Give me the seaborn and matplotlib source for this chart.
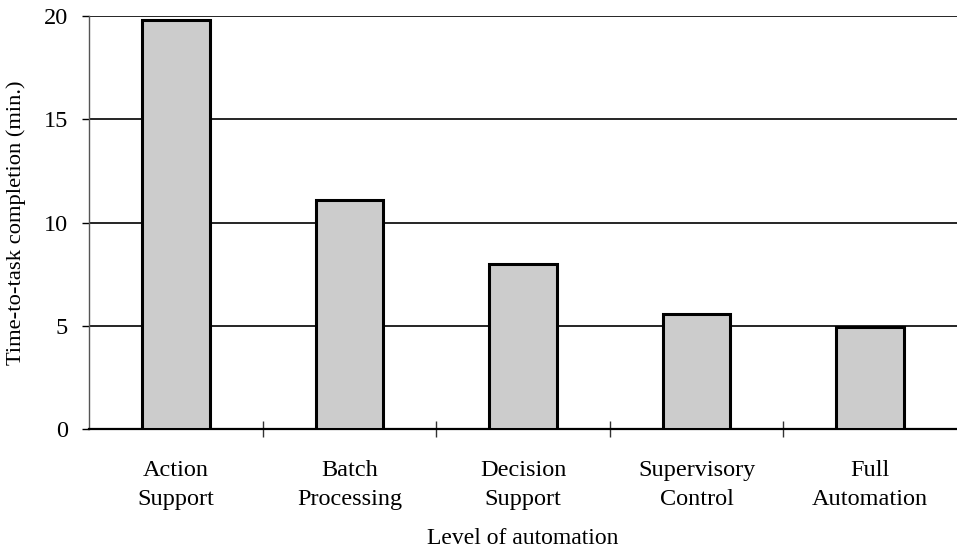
# Столбчатая диаграмма: время выполнения задачи по уровню автоматизации
import pandas as pd
import matplotlib.pyplot as plt
import seaborn as sns
from matplotlib.ticker import FixedLocator

# Данные
levels = ['Action\nSupport', 'Batch\nProcessing', 'Decision\nSupport',
          'Supervisory\nControl', 'Full\nAutomation']
times = [19.8, 11.1, 8.0, 5.6, 4.95]

df = pd.DataFrame({'level': levels, 'time': times})

sns.set_theme(style="white")
plt.rcParams['font.family'] = ['Liberation Serif', 'DejaVu Serif']
plt.rcParams['text.color'] = 'black'
plt.rcParams['axes.labelcolor'] = 'black'
plt.rcParams['xtick.color'] = 'black'
plt.rcParams['ytick.color'] = 'black'

fig = plt.figure(figsize=(9.57, 5.51), dpi=100)
ax = fig.add_axes([0.093, 0.221, 0.907, 0.750])

sns.barplot(x='level', y='time', data=df, color='#cccccc', saturation=1,
            edgecolor='black', linewidth=2.2, width=0.39, ax=ax, zorder=3)

# Горизонтальные линии сетки
ax.set_yticks([0, 5, 10, 15, 20])
ax.yaxis.grid(True, color='black', linewidth=1.2)
ax.set_axisbelow(True)
ax.set_ylim(0, 20)
ax.set_xlim(-0.5, 4.5)

for s in ['top', 'right']:
    ax.spines[s].set_visible(False)
ax.spines['left'].set_color('#555555')
ax.spines['left'].set_linewidth(1.0)
ax.spines['bottom'].set_color('black')
ax.spines['bottom'].set_linewidth(1.6)

ax.tick_params(axis='y', direction='out', length=5, width=1,
               labelsize=17.5, pad=10, left=True)
ax.tick_params(axis='x', which='major', length=0, labelsize=17.5, pad=22)
ax.xaxis.set_minor_locator(FixedLocator([0.5, 1.5, 2.5, 3.5]))
ax.tick_params(axis='x', which='minor', direction='inout', length=12, width=1,
               color='#333333', bottom=True)
for lab in ax.get_xticklabels():
    lab.set_linespacing(1.5)

ax.set_xlabel('Level of automation', fontsize=17, labelpad=13)
ax.set_ylabel('Time-to-task completion (min.)', fontsize=16.2, labelpad=13)

plt.savefig('out.png', dpi=100)
